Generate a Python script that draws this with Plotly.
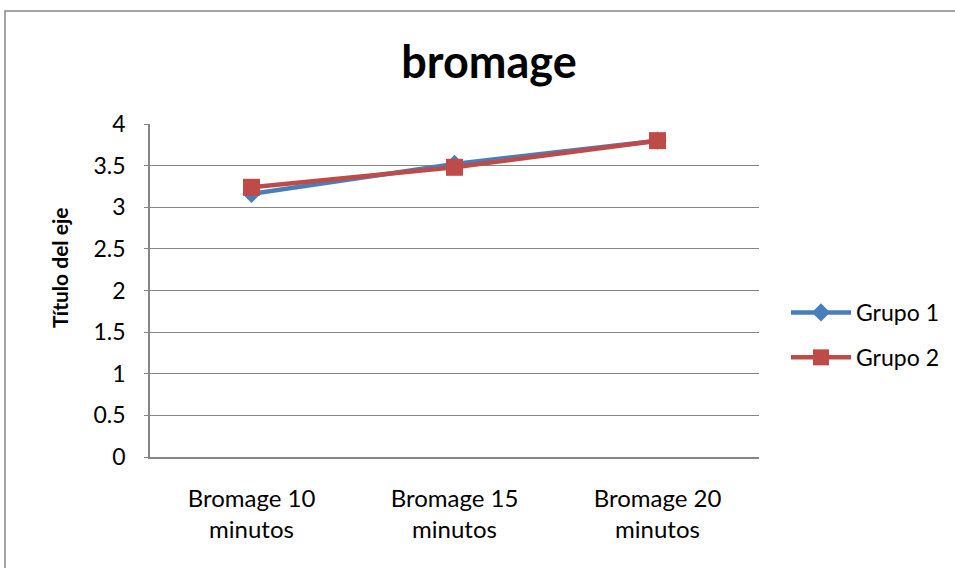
import plotly.graph_objects as go

categories = ["Bromage 10<br>minutos", "Bromage 15<br>minutos", "Bromage 20<br>minutos"]
grupo1 = [3.16, 3.52, 3.80]
grupo2 = [3.24, 3.48, 3.80]
y_ticks = [0, 0.5, 1, 1.5, 2, 2.5, 3, 3.5, 4]
y_tick_labels = ["0", "0.5", "1", "1.5", "2", "2.5", "3", "3.5", "4"]

FONT = "Lato, Liberation Sans, sans-serif"

fig = go.Figure()
fig.add_trace(go.Scatter(
    x=categories, y=grupo1, name="Grupo 1", mode="lines+markers", legendgroup="g1",
    line=dict(color="#4A7EBB", width=4.5),
    marker=dict(symbol="diamond", size=14, color="#4A7EBB"),
))
fig.add_trace(go.Scatter(
    x=categories, y=grupo2, name="Grupo 2", mode="lines+markers", legendgroup="g2",
    line=dict(color="#BE4B48", width=4.5),
    marker=dict(symbol="square", size=17, color="#BE4B48"),
))

fig.update_layout(
    width=955, height=568,
    margin=dict(l=150, r=196, t=124, b=111, autoexpand=False),
    paper_bgcolor="white", plot_bgcolor="white",
    font=dict(family=FONT, size=24, color="#000000"),
    title=dict(text="<b>bromage</b>", x=0.512, xanchor="center", y=0.89, yanchor="middle",
               font=dict(family=FONT, size=45, color="#000000")),
    showlegend=True,
    legend=dict(x=(786 - 150) / 609, y=(457 - 335) / 333, xanchor="left", yanchor="middle",
                font=dict(family=FONT, size=23, color="#000000"),
                itemwidth=60, tracegroupgap=12, bgcolor="rgba(0,0,0,0)"),
    xaxis=dict(type="category", range=[-0.5, 2.5], showgrid=False,
               showline=True, linecolor="#868686", linewidth=1.5,
               ticks="", tickfont=dict(family=FONT, size=24), ticklabelstandoff=19),
    yaxis=dict(range=[0, 4], tickvals=y_ticks, ticktext=y_tick_labels,
               showgrid=True, gridcolor="#868686", gridwidth=1.2,
               showline=True, linecolor="#868686", linewidth=1.5,
               ticks="outside", ticklen=4, tickcolor="#868686",
               tickfont=dict(family=FONT, size=23), zeroline=False, ticklabelstandoff=14),
    annotations=[dict(text="<b>Título del eje</b>", textangle=-90,
                      xref="paper", yref="paper",
                      x=(59 - 150) / 609, y=(457 - 268) / 333,
                      xanchor="center", yanchor="middle", showarrow=False,
                      font=dict(family=FONT, size=21, color="#000000"))],
    shapes=[dict(type="rect", xref="paper", yref="paper",
                 x0=(5 - 150) / 609, x1=(1000 - 150) / 609,
                 y0=(457 - 620) / 333, y1=(457 - 11) / 333,
                 line=dict(color="#868686", width=1.5), fillcolor="rgba(0,0,0,0)", layer="below")],
)

fig.write_html("out.html", config={"displayModeBar": False},
               post_script="document.body.style.margin='0px';")
